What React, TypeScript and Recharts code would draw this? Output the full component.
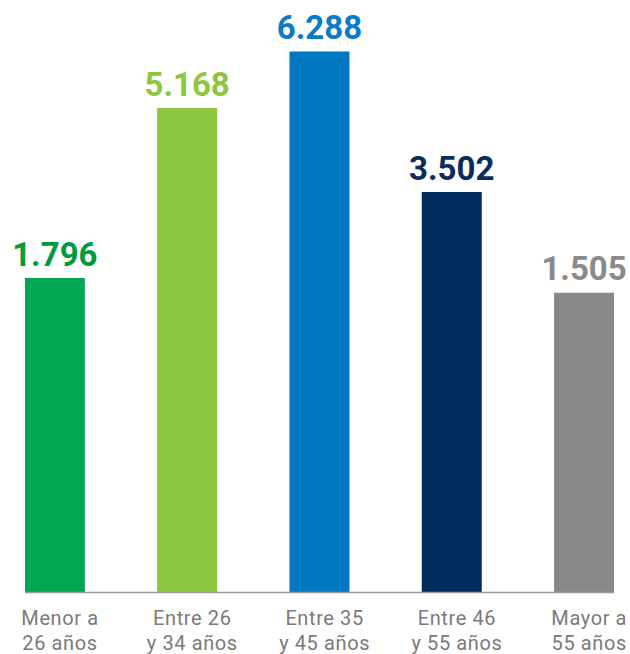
import React from 'react';
import { BarChart, Bar, XAxis, YAxis, Cell, LabelList } from 'recharts';

const categories = ['Menor a\n26 años', 'Entre 26\ny 34 años', 'Entre 35\ny 45 años', 'Entre 46\ny 55 años', 'Mayor a\n55 años'];
const values = [1796, 5168, 6288, 3502, 1505];
const barColors = ['#00a651', '#8dc63f', '#0079c1', '#002b5c', '#888888'];
const labelColors = ['#009a3b', '#8dc63f', '#0a7bc4', '#0b2c5c', '#8a8a8a'];
const axisBase = -4444;
const axisTop = 7113;

const data = categories.map((c, i) => ({ idx: i, name: c, value: values[i] }));

const fmt = (v: number) => String(v).replace(/\B(?=(\d{3})+(?!\d))/g, '.');

const Tick = (props: any) => {
  const { x, y, payload } = props;
  const lines = categories[payload.value].split('\n');
  return (
    <g>
      {lines.map((l, i) => (
        <text key={i} x={x + 5} y={y + 32.5 + i * 25} textAnchor="middle" fill="#7a7a7a" fontSize={20} letterSpacing={0.6} fontFamily="Roboto, Arial, sans-serif">
          {l}
        </text>
      ))}
    </g>
  );
};

const ValueLabel = (props: any) => {
  const { x, y, width, index } = props;
  return (
    <text x={x + width / 2} y={y - 12.3} textAnchor="middle" fill={labelColors[index]} fontSize={33} fontWeight={700} fontFamily="Roboto, Arial, sans-serif">
      {fmt(values[index])}
    </text>
  );
};

export default function App() {
  return (
    <div style={{ position: 'absolute', left: 0, top: 0, width: 630, height: 654, background: '#fff' }}>
      <BarChart width={630} height={654} data={data} margin={{ top: 10, right: 16, left: 25, bottom: 1.5 }}>
        <XAxis
          dataKey="idx"
          type="number"
          domain={[-0.2268, 4.2252]}
          ticks={[0, 1, 2, 3, 4]}
          allowDataOverflow
          height={60}
          tickLine={false}
          tickSize={0}
          tickMargin={0}
          axisLine={{ stroke: '#9a9a9a', strokeWidth: 1.5 }}
          tick={<Tick />}
          interval={0}
        />
        <YAxis hide domain={[axisBase, axisTop]} allowDataOverflow width={0} />
        <Bar dataKey={(d: any) => [axisBase, d.value]} barSize={60} isAnimationActive={false}>
          {data.map((d, i) => (
            <Cell key={i} fill={barColors[i]} />
          ))}
          <LabelList dataKey="value" content={<ValueLabel />} />
        </Bar>
      </BarChart>
    </div>
  );
}
